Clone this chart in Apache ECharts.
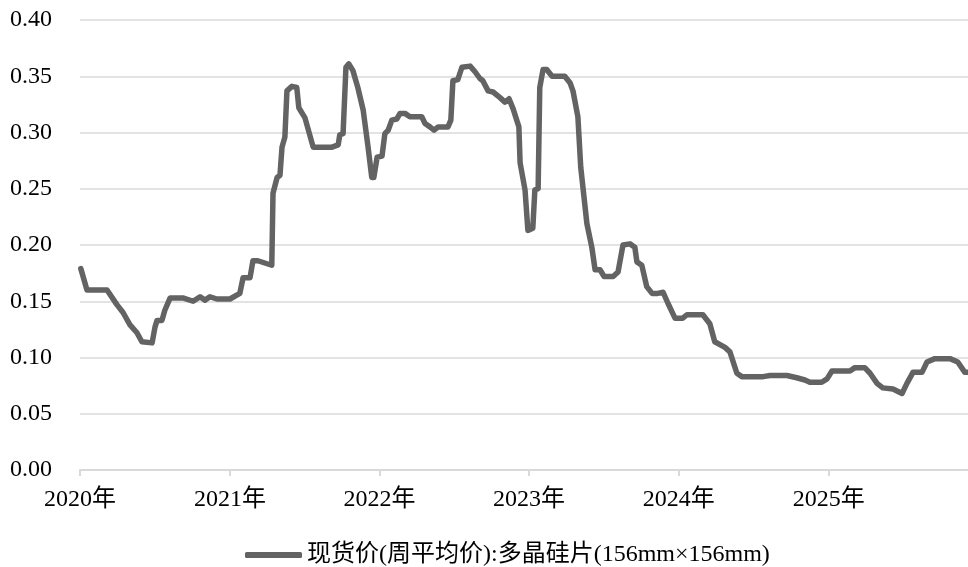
<!DOCTYPE html>
<html>
<head>
<meta charset="utf-8">
<title>现货价(周平均价):多晶硅片</title>
<script src="https://cdn.jsdelivr.net/npm/echarts@6/dist/echarts.min.js"></script>
<style>
  html, body { margin: 0; padding: 0; background: #fff; }
  #chart { width: 968px; height: 567px; }
</style>
</head>
<body>
<div id="chart"></div>
<script>
// 周平均价，读图估计
const dates = [
  "2020-01-03", "2020-01-18", "2020-03-07", "2020-03-31", "2020-04-15", "2020-05-02",
  "2020-05-19", "2020-05-31", "2020-06-25", "2020-07-02", "2020-07-07", "2020-07-19",
  "2020-07-26", "2020-08-08", "2020-09-08", "2020-10-03", "2020-10-20", "2020-11-01",
  "2020-11-13", "2020-11-30", "2021-01-01", "2021-01-25", "2021-02-02", "2021-02-19",
  "2021-02-26", "2021-03-10", "2021-04-13", "2021-04-16", "2021-04-26", "2021-05-03",
  "2021-05-08", "2021-05-15", "2021-05-20", "2021-06-01", "2021-06-13", "2021-06-18",
  "2021-07-03", "2021-07-23", "2021-09-07", "2021-09-22", "2021-09-26", "2021-10-04",
  "2021-10-11", "2021-10-18", "2021-10-28", "2021-11-09", "2021-11-22", "2021-12-04",
  "2021-12-13", "2021-12-18", "2021-12-26", "2022-01-07", "2022-01-14", "2022-01-22",
  "2022-01-31", "2022-02-12", "2022-02-20", "2022-03-04", "2022-03-16", "2022-04-14",
  "2022-04-22", "2022-05-04", "2022-05-14", "2022-05-24", "2022-06-17", "2022-06-24",
  "2022-06-29", "2022-07-11", "2022-07-21", "2022-08-10", "2022-08-22", "2022-09-03",
  "2022-09-10", "2022-09-23", "2022-10-05", "2022-10-22", "2022-11-03", "2022-11-13",
  "2022-11-23", "2022-12-07", "2022-12-10", "2022-12-22", "2022-12-29", "2023-01-10",
  "2023-01-15", "2023-01-23", "2023-01-27", "2023-02-04", "2023-02-13", "2023-02-26",
  "2023-03-29", "2023-04-11", "2023-04-18", "2023-04-30", "2023-05-07", "2023-05-22",
  "2023-06-03", "2023-06-11", "2023-06-23", "2023-07-03", "2023-07-25", "2023-08-06",
  "2023-08-18", "2023-09-04", "2023-09-16", "2023-09-21", "2023-10-03", "2023-10-15",
  "2023-10-28", "2023-11-11", "2023-11-24", "2023-12-06", "2023-12-23", "2024-01-11",
  "2024-01-21", "2024-02-29", "2024-03-17", "2024-03-29", "2024-04-23", "2024-05-05",
  "2024-05-22", "2024-06-03", "2024-07-25", "2024-08-11", "2024-09-21", "2024-10-15",
  "2024-11-04", "2024-11-16", "2024-12-15", "2024-12-28", "2025-01-09", "2025-02-22",
  "2025-03-06", "2025-03-30", "2025-04-12", "2025-04-29", "2025-05-13", "2025-06-07",
  "2025-06-29", "2025-07-11", "2025-07-26", "2025-08-17", "2025-08-29", "2025-09-17",
  "2025-10-24", "2025-11-12", "2025-11-29", "2025-12-07"
];
const prices = [
  0.179, 0.160, 0.160, 0.147, 0.140, 0.129,
  0.122, 0.114, 0.113, 0.127, 0.133, 0.133,
  0.142, 0.153, 0.153, 0.150, 0.154, 0.151,
  0.154, 0.152, 0.152, 0.157, 0.171, 0.171,
  0.186, 0.186, 0.182, 0.246, 0.260, 0.262,
  0.287, 0.296, 0.337, 0.341, 0.340, 0.322,
  0.313, 0.287, 0.287, 0.289, 0.298, 0.299,
  0.358, 0.361, 0.355, 0.340, 0.320, 0.287,
  0.260, 0.260, 0.278, 0.279, 0.299, 0.302,
  0.311, 0.312, 0.317, 0.317, 0.314, 0.314,
  0.308, 0.305, 0.302, 0.305, 0.305, 0.311,
  0.346, 0.347, 0.358, 0.359, 0.354, 0.348,
  0.346, 0.337, 0.336, 0.331, 0.327, 0.330,
  0.321, 0.305, 0.273, 0.249, 0.213, 0.215,
  0.249, 0.250, 0.340, 0.356, 0.356, 0.350,
  0.350, 0.344, 0.337, 0.314, 0.269, 0.219,
  0.198, 0.178, 0.178, 0.172, 0.172, 0.176,
  0.200, 0.201, 0.198, 0.185, 0.182, 0.163,
  0.157, 0.157, 0.158, 0.148, 0.135, 0.135,
  0.138, 0.138, 0.130, 0.114, 0.109, 0.105,
  0.086, 0.083, 0.083, 0.084, 0.084, 0.082,
  0.080, 0.078, 0.078, 0.081, 0.088, 0.088,
  0.091, 0.091, 0.086, 0.077, 0.073, 0.072,
  0.068, 0.077, 0.087, 0.087, 0.096, 0.099,
  0.099, 0.096, 0.087, 0.087
];
const seriesName = "现货价(周平均价):多晶硅片(156mm×156mm)";
const yTicks = [0, 0.05, 0.10, 0.15, 0.20, 0.25, 0.30, 0.35, 0.40];

const font = "'Liberation Serif', 'Times New Roman', 'Noto Sans CJK SC', serif";
const chart = echarts.init(document.getElementById("chart"));
chart.setOption({
  animation: false,
  textStyle: { fontFamily: font },
  color: ["#636363"],
  grid: { left: 80, right: 0, top: 20, bottom: 97, containLabel: false },
  legend: {
    data: [seriesName],
    top: 538,
    left: 240,
    icon: "roundRect",
    itemWidth: 57,
    itemHeight: 6,
    itemGap: 4,
    textStyle: { fontFamily: font, fontSize: 24, color: "#000" }
  },
  xAxis: {
    type: "time",
    min: "2020-01-01",
    max: dates[dates.length - 1],
    minInterval: 365 * 24 * 3600 * 1000,
    axisLine: { lineStyle: { color: "#d9d9d9", width: 2 } },
    axisTick: { show: true, length: 6, lineStyle: { color: "#d9d9d9", width: 2 } },
    splitLine: { show: false },
    axisLabel: {
      color: "#000",
      fontSize: 24,
      margin: 18,
      formatter: (val) => new Date(val).getFullYear() + "年"
    }
  },
  yAxis: {
    type: "value",
    min: yTicks[0],
    max: yTicks[yTicks.length - 1],
    interval: 0.05,
    axisLine: { show: false },
    axisTick: { show: false },
    splitLine: { lineStyle: { color: "#e3e3e3", width: 2 } },
    axisLabel: {
      color: "#000",
      fontSize: 24,
      margin: 28,
      formatter: (val) => val.toFixed(2)
    }
  },
  series: [
    {
      name: seriesName,
      type: "line",
      showSymbol: false,
      lineStyle: { width: 5.5, color: "#636363", cap: "round", join: "round" },
      data: dates.map((d, i) => [d, prices[i]])
    }
  ]
});
</script>
</body>
</html>
